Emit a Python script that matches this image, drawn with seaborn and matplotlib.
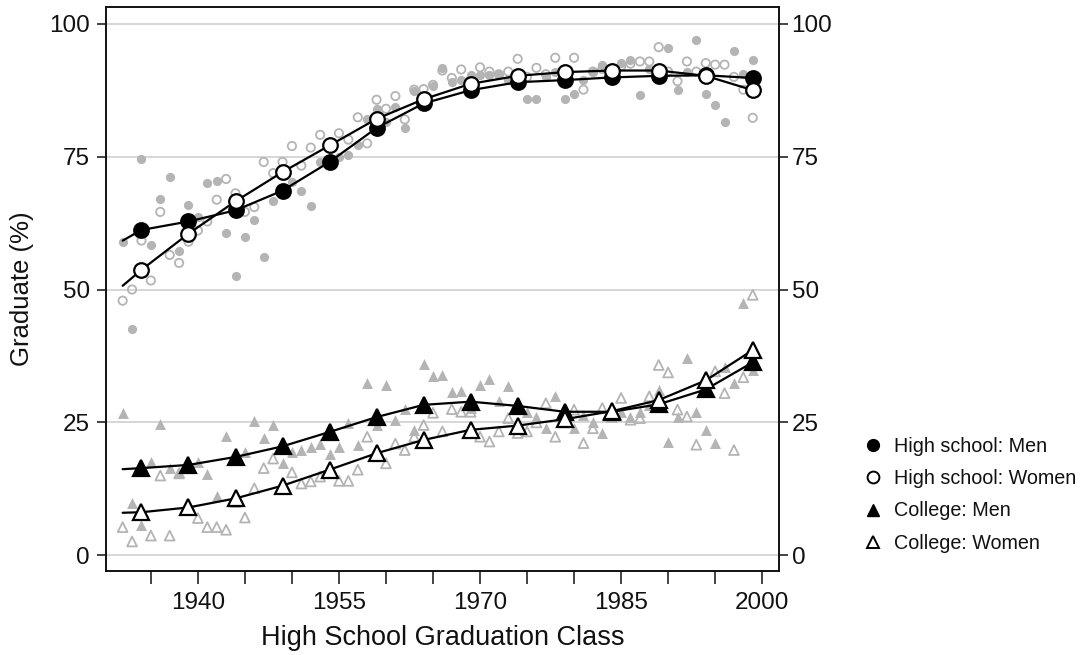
import numpy as np
import pandas as pd
import matplotlib
matplotlib.use("Agg")
import matplotlib.pyplot as plt
from matplotlib.lines import Line2D
import seaborn as sns

# ---------------- data ----------------
years = list(range(1932, 2000))

hs_men = [59.0, 42.5, 74.6, 58.4, 67.0, 71.1, 57.3, 65.9, 63.7, 70.0,
          70.5, 60.6, 52.6, 59.8, 63.1, 56.2, 66.7, 69.0, 70.3, 68.5,
          65.8, 74.0, 74.5, 75.0, 75.4, 77.2, 82.0, 84.0, 81.6, 84.4,
          80.4, 87.3, 86.0, 88.2, 91.7, 89.0, 89.5, 90.4, 90.4, 90.4,
          90.5, 89.5, 89.0, 85.9, 85.9, 90.0, 91.0, 85.9, 86.8, 89.5,
          91.0, 92.3, 91.0, 92.6, 93.2, 86.6, 91.5, 90.5, 95.4, 87.5,
          91.0, 96.9, 86.8, 84.8, 81.6, 94.8, 90.5, 93.1]

hs_women = [47.9, 50.0, 59.2, 51.7, 64.6, 56.5, 55.0, 59.0, 61.1, 62.8,
            66.9, 70.8, 68.1, 64.6, 65.5, 74.0, 71.9, 74.0, 77.0, 73.3,
            76.7, 79.1, 77.0, 79.4, 78.2, 82.4, 77.5, 85.7, 84.0, 86.4,
            82.0, 87.6, 87.7, 88.5, 91.2, 89.8, 91.4, 89.5, 91.8, 91.0,
            90.5, 91.0, 93.4, 90.0, 91.7, 90.5, 93.6, 90.5, 93.6, 87.6,
            91.0, 91.5, 91.0, 92.0, 92.5, 92.9, 92.9, 95.6, 91.0, 89.2,
            92.9, 91.0, 92.6, 92.3, 92.3, 90.0, 87.6, 82.3]

col_men = [26.8, 9.8, 5.7, 17.6, 24.7, 16.4, 15.7, 16.5, 17.6, 15.3,
           11.2, 22.5, 18.3, 19.5, 25.2, 22.0, 24.6, 17.4, 19.5, 19.9,
           20.4, 21.0, 19.1, 20.4, 24.8, 20.7, 32.5, 24.5, 32.1, 25.5,
           27.5, 23.6, 36.0, 33.7, 33.9, 30.7, 30.9, 27.7, 32.1, 33.2,
           29.0, 31.8, 28.0, 27.0, 26.1, 23.9, 30.0, 27.0, 23.9, 26.4,
           25.0, 23.0, 26.5, 27.0, 26.0, 27.0, 28.3, 31.1, 21.3, 26.0,
           37.1, 27.0, 23.6, 21.1, 35.5, 32.5, 47.4, 34.9]

col_women = [5.3, 2.6, 8.0, 3.7, 15.0, 3.7, 15.4, 9.5, 7.0, 5.3,
             5.3, 4.8, 10.0, 7.1, 12.6, 16.4, 18.2, 13.0, 15.6, 13.5,
             13.9, 14.8, 16.0, 14.0, 14.0, 16.1, 22.3, 19.0, 17.3, 21.0,
             19.8, 22.3, 24.5, 26.8, 23.3, 27.5, 27.0, 27.0, 22.3, 21.4,
             23.3, 25.8, 23.0, 23.3, 25.0, 28.6, 22.3, 25.0, 27.4, 21.1,
             23.9, 27.7, 26.0, 29.6, 25.5, 25.8, 29.9, 35.8, 34.4, 27.4,
             26.1, 20.8, 33.0, 34.6, 30.5, 19.8, 33.5, 49.0]

fit_years = [1932, 1934, 1939, 1944, 1949, 1954, 1959, 1964, 1969,
             1974, 1979, 1984, 1989, 1994, 1999]
hs_men_fit = [59.2, 61.2, 62.8, 64.9, 68.6, 74.0, 80.4, 85.0, 87.5,
              89.0, 89.4, 89.9, 90.2, 90.3, 89.8]
hs_women_fit = [50.7, 53.7, 60.5, 66.6, 72.1, 77.1, 82.1, 85.8, 88.7,
                90.2, 90.9, 91.2, 91.2, 90.2, 87.5]
col_men_fit = [16.2, 16.4, 17.0, 18.5, 20.5, 23.2, 26.0, 28.3, 28.9,
               28.1, 27.0, 27.0, 28.4, 31.2, 36.3]
col_women_fit = [8.0, 8.1, 9.0, 10.7, 13.1, 16.1, 19.2, 21.7, 23.6,
                 24.4, 25.6, 27.1, 29.2, 32.9, 38.6]

series_labels = ["High school: Men", "High school: Women",
                 "College: Men", "College: Women"]

x_ticks = [1935, 1940, 1945, 1950, 1955, 1960, 1965, 1970, 1975, 1980,
           1985, 1990, 1995, 2000]
x_labels = ["", "1940", "", "", "1955", "", "", "1970", "", "",
            "1985", "", "", "2000"]
y_ticks = [0, 25, 50, 75, 100]

# ---------------- style ----------------
sns.set_theme(style="white")
plt.rcParams["font.family"] = ["Liberation Sans", "DejaVu Sans"]
plt.rcParams["text.color"] = "#111111"

GRAY = "#b4b4b4"
TXT = "#111111"
TICK_FS = 17.5

fig = plt.figure(figsize=(10.81, 6.55), dpi=100)
ax = fig.add_axes([0.0978, 0.1287, 0.6229, 0.8602])

# gray scatter points
sns.scatterplot(x=years, y=hs_men, ax=ax, marker="o", s=44, color=GRAY,
                edgecolor=GRAY, linewidth=0, zorder=2, legend=False)
sns.scatterplot(x=years, y=hs_women, ax=ax, marker="o", s=36, color=GRAY,
                facecolor="none", edgecolor=GRAY, linewidth=1.3, zorder=2,
                legend=False)
sns.scatterplot(x=years, y=col_men, ax=ax, marker="^", s=62, color=GRAY,
                edgecolor=GRAY, linewidth=0, zorder=2, legend=False)
sns.scatterplot(x=years, y=col_women, ax=ax, marker="^", s=50, color=GRAY,
                facecolor="none", edgecolor=GRAY, linewidth=1.3, zorder=2,
                legend=False)

# fitted lines with markers
mev = list(range(1, len(fit_years)))
fits = [
    (hs_men_fit, "o", "black", 10.5, 4),
    (hs_women_fit, "o", "white", 10.5, 5),
    (col_men_fit, "^", "black", 11.5, 4),
    (col_women_fit, "^", "white", 11.5, 5),
]
for vals, mk, fc, ms, z in fits:
    sns.lineplot(x=fit_years, y=vals, ax=ax, color="black", linewidth=1.6,
                 marker=mk, markersize=ms, markerfacecolor=fc,
                 markeredgecolor="black", markeredgewidth=1.6,
                 markevery=mev, errorbar=None, sort=False, zorder=z)

ax.set_xlim(1930.2, 2001.8)
ax.set_ylim(-2.9, 103.1)
ax.set_xticks(x_ticks)
ax.set_xticklabels(x_labels)
ax.set_yticks(y_ticks)
ax.set_yticklabels([str(v) for v in y_ticks])

ax.yaxis.grid(True, color="#cccccc", linewidth=1.1)
ax.xaxis.grid(False)
ax.set_axisbelow(True)

for sp in ax.spines.values():
    sp.set_color("#111111")
    sp.set_linewidth(1.4)

ax.tick_params(axis="x", bottom=True, length=9, width=1.1, pad=6,
               labelsize=TICK_FS, colors=TXT)
ax.tick_params(axis="y", left=True, right=False, length=6.5, width=1.1,
               pad=5, labelsize=TICK_FS, colors=TXT)

ax2 = ax.twinx()
ax2.set_ylim(ax.get_ylim())
ax2.set_yticks(y_ticks)
ax2.set_yticklabels([str(v) for v in y_ticks])
ax2.tick_params(axis="y", right=True, length=6.5, width=1.1, pad=2.5,
                labelsize=TICK_FS, colors=TXT)
for sp in ax2.spines.values():
    sp.set_visible(False)
ax2.grid(False)

ax.set_xlabel("High School Graduation Class", fontsize=19.5, color=TXT)
ax.set_ylabel("Graduate (%)", fontsize=18.5, color=TXT)
ax.yaxis.set_label_coords(-0.1065, 0.5)
ax.xaxis.set_label_coords(0.5, -0.097)

handles = [
    Line2D([], [], linestyle="none", marker="o", markersize=8.5,
           markerfacecolor="black", markeredgecolor="black"),
    Line2D([], [], linestyle="none", marker="o", markersize=8.5,
           markerfacecolor="white", markeredgecolor="black",
           markeredgewidth=1.4),
    Line2D([], [], linestyle="none", marker="^", markersize=9,
           markerfacecolor="black", markeredgecolor="black"),
    Line2D([], [], linestyle="none", marker="^", markersize=9,
           markerfacecolor="white", markeredgecolor="black",
           markeredgewidth=1.4),
]
ax.legend(handles, series_labels, loc="upper left",
          bbox_to_anchor=(0.7985, 0.3328), bbox_transform=fig.transFigure,
          frameon=False, fontsize=14.2, borderpad=0, borderaxespad=0,
          handlelength=1.0, handletextpad=0.57, labelspacing=0.67,
          labelcolor=TXT)

fig.savefig("out.png", dpi=100)
